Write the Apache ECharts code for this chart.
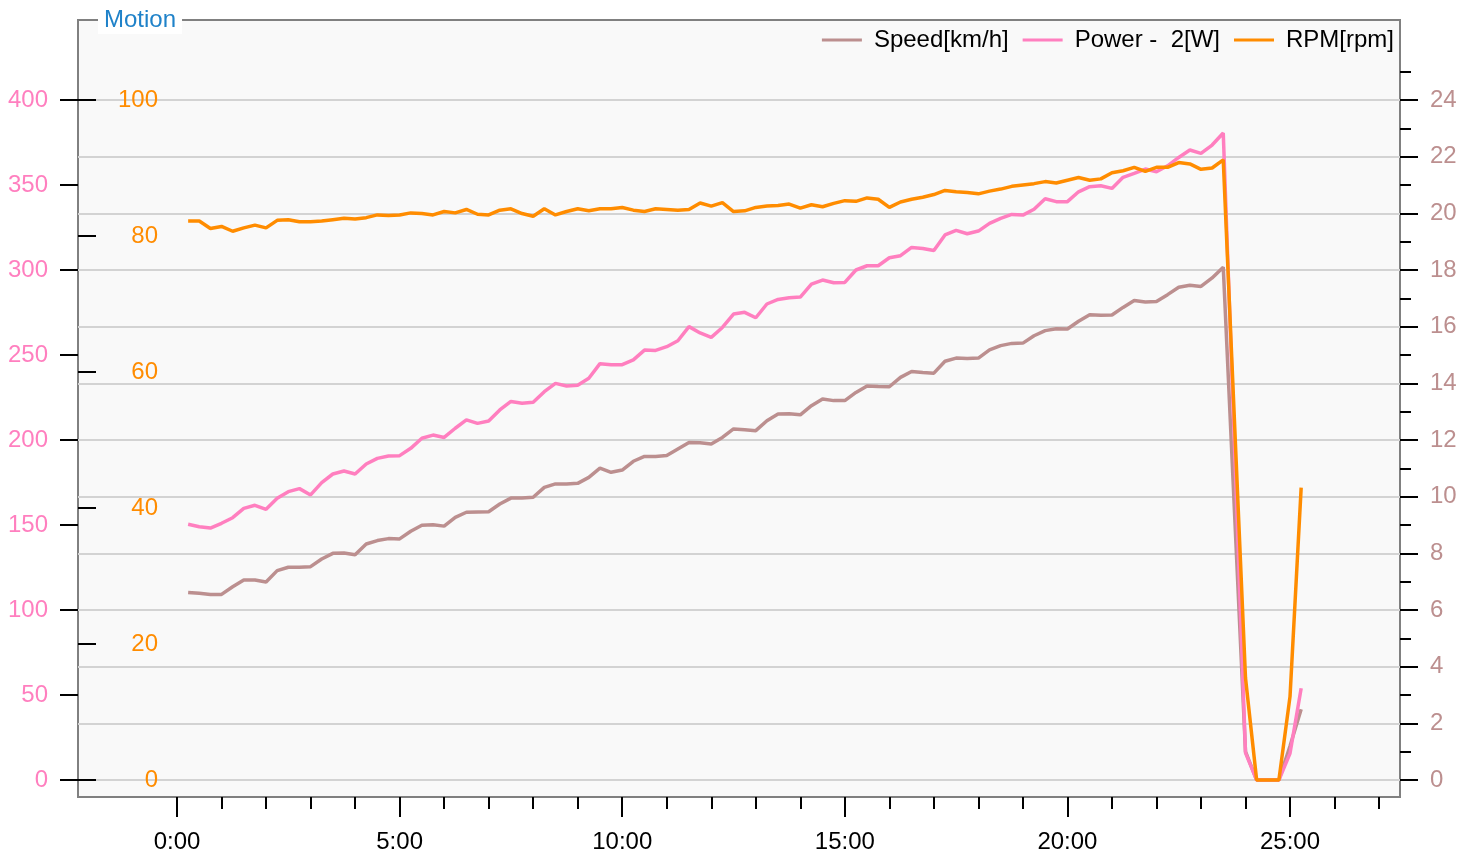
<!DOCTYPE html>
<html>
<head>
<meta charset="utf-8">
<title>Motion</title>
<script src="https://cdn.jsdelivr.net/npm/echarts@6/dist/echarts.min.js"></script>
<style>
  html, body { margin: 0; padding: 0; background: #ffffff; }
  #chart { width: 1476px; height: 855px; }
</style>
</head>
<body>
<div id="chart"></div>
<script>
// one sample every 15 s, starting at 0:15 (null = missing sample)
const speed = [
  6.62, 6.59, 6.55, 6.55, 6.82, 7.06, 7.06, 6.99, 7.39, 7.51,
  7.51, 7.53, 7.80, 8.00, 8.01, 7.95, 8.33, 8.45, 8.52, 8.51,
  8.78, 8.99, 9.01, 8.96, 9.27, 9.45, 9.46, 9.47, 9.74, 9.95,
  9.95, 9.98, 10.33, 10.45, 10.45, 10.47, 10.68, 11.01, 10.86, 10.94,
  11.25, 11.42, 11.42, 11.45, 11.68, 11.91, 11.90, 11.86, 12.09, 12.39,
  12.36, 12.33, 12.68, 12.92, 12.93, 12.89, 13.21, 13.45, 13.39, 13.39,
  13.68, 13.91, 13.89, 13.88, 14.21, 14.42, 14.38, 14.36, 14.78, 14.89,
  14.88, 14.89, 15.18, 15.33, 15.41, 15.42, 15.68, 15.86, 15.93, 15.92,
  16.19, 16.42, 16.40, 16.41, 16.68, 16.92, 16.87, 16.89, 17.13, 17.39,
  17.46, 17.42, 17.72, 18.10, null, 1.0, 0, 0, 0, 1.2,
  2.5
]
const power = [
  150.4, 149.0, 148.2, 151.0, 154.3, 159.8, 161.6, 159.2, 165.7, 169.6,
  171.4, 167.7, 174.9, 180.0, 181.8, 180.0, 185.9, 189.2, 190.6, 190.8,
  195.1, 201.0, 202.9, 201.5, 206.9, 211.8, 209.8, 211.2, 217.7, 222.7,
  221.6, 222.2, 228.4, 233.3, 231.8, 232.2, 236.3, 244.9, 244.3, 244.3,
  247.1, 252.9, 252.7, 254.9, 258.4, 266.7, 263.0, 260.4, 266.2, 274.1,
  275.1, 271.9, 280.0, 282.7, 283.7, 284.1, 291.7, 294.1, 292.5, 292.7,
  300.0, 302.5, 302.5, 307.2, 308.4, 313.3, 312.7, 311.5, 320.6, 323.3,
  321.3, 322.9, 327.4, 330.4, 332.7, 332.3, 335.7, 341.9, 340.2, 340.2,
  346.0, 349.0, 349.6, 348.0, 354.5, 356.8, 359.4, 357.8, 361.3, 366.2,
  370.6, 368.6, 373.5, 380.6, null, 16, 0, 0, 0, 15.7,
  54
]
const rpm = [
  82.2, 82.2, 81.1, 81.4, 80.7, 81.2, 81.6, 81.2, 82.3, 82.4,
  82.1, 82.1, 82.2, 82.4, 82.6, 82.5, 82.7, 83.1, 83.0, 83.1,
  83.4, 83.3, 83.1, 83.6, 83.4, 83.9, 83.2, 83.1, 83.8, 84.0,
  83.3, 82.9, 84.0, 83.1, 83.6, 84.0, 83.7, 84.0, 84.0, 84.2,
  83.8, 83.6, 84.0, 83.9, 83.8, 83.9, 84.85, 84.4, 84.9, 83.6,
  83.7, 84.2, 84.4, 84.5, 84.7, 84.1, 84.6, 84.3, 84.8, 85.2,
  85.1, 85.6, 85.4, 84.2, 85.0, 85.4, 85.7, 86.1, 86.7, 86.5,
  86.4, 86.2, 86.6, 86.9, 87.3, 87.5, 87.7, 88.0, 87.8, 88.2,
  88.6, 88.2, 88.4, 89.3, 89.6, 90.1, 89.5, 90.1, 90.1, 90.8,
  90.6, 89.8, 90.0, 91.2, null, 15, 0, 0, 0, 12.3,
  43
]
// time in minutes
const times = speed.map((_, i) => (i + 1) * 0.25)

const timeLabels = [0, 5, 10, 15, 20, 25]
const minuteTicks = [1, 2, 3, 4, 6, 7, 8, 9, 11, 12, 13, 14, 16, 17, 18, 19, 21, 22, 23, 24, 26, 27]
const powerTicks = [0, 50, 100, 150, 200, 250, 300, 350, 400]
const rpmTicks = [0, 20, 40, 60, 80, 100]
const speedTicks = [0, 2, 4, 6, 8, 10, 12, 14, 16, 18, 20, 22, 24]
const speedMinorTicks = [1, 3, 5, 7, 9, 11, 13, 15, 17, 19, 21, 23, 25]

const speedColor = '#bc8f8f'
const powerColor = '#ff7fbf'
const rpmColor = '#ff8c00'
const font = 'Liberation Sans, Arial, sans-serif'
const fs = 24

const pairs = (vals) => vals.map((v, i) => [times[i], v])

const chart = echarts.init(document.getElementById('chart'))

const option = {
  animation: false,
  backgroundColor: '#ffffff',
  textStyle: { fontFamily: font },
  title: {
    text: 'Motion',
    left: 98,
    top: 6,
    backgroundColor: '#ffffff',
    padding: [2, 6, 2, 6],
    textStyle: { color: '#1f82c9', fontSize: fs, fontWeight: 'normal', fontFamily: font }
  },
  legend: {
    right: 77,
    top: 23,
    icon: 'rect',
    itemWidth: 40,
    itemHeight: 3,
    itemGap: 14,
    textStyle: { color: '#000000', fontSize: fs, fontFamily: font, padding: [0, 0, 0, 7] },
    data: ['Speed[km/h]', 'Power -  2[W]', 'RPM[rpm]']
  },
  grid: {
    left: 78,
    right: 76,
    top: 20,
    bottom: 58,
    show: true,
    backgroundColor: '#f9f9f9',
    borderColor: '#808080',
    borderWidth: 2
  },
  xAxis: [
    {
      type: 'value',
      min: -2.224,
      max: 27.47,
      position: 'bottom',
      axisLine: { show: false, onZero: false },
      splitLine: { show: false },
      axisTick: { customValues: timeLabels, length: 20, lineStyle: { color: '#000', width: 2 } },
      axisLabel: {
        customValues: timeLabels,
        formatter: (v) => v + ':00',
        margin: 33,
        fontSize: fs,
        color: '#000000',
        fontFamily: font
      }
    },
    {
      type: 'value',
      min: -2.224,
      max: 27.47,
      position: 'bottom',
      axisLine: { show: false, onZero: false },
      splitLine: { show: false },
      axisLabel: { show: false },
      axisTick: { customValues: minuteTicks, length: 12, lineStyle: { color: '#000', width: 2 } }
    }
  ],
  yAxis: [
    {
      // power
      type: 'value',
      position: 'left',
      min: -10,
      max: 447.06,
      axisLine: { show: false, onZero: false },
      splitLine: { show: false },
      axisTick: { customValues: powerTicks, length: 18, lineStyle: { color: '#000', width: 2 } },
      axisLabel: { customValues: powerTicks, margin: 30, fontSize: fs, color: powerColor, fontFamily: font }
    },
    {
      // rpm, labels inside the plot
      type: 'value',
      position: 'left',
      min: -2.5,
      max: 111.765,
      axisLine: { show: false, onZero: false },
      splitLine: { show: false },
      axisTick: { customValues: rpmTicks, inside: true, length: 18, lineStyle: { color: '#000', width: 2 } },
      axisLabel: {
        customValues: rpmTicks,
        inside: true,
        align: 'right',
        margin: 80,
        fontSize: fs,
        color: rpmColor,
        fontFamily: font
      }
    },
    {
      // speed
      type: 'value',
      position: 'right',
      min: -0.6,
      max: 26.824,
      axisLine: { show: false, onZero: false },
      splitLine: { show: true, lineStyle: { color: '#d3d3d3', width: 2 } },
      axisTick: { customValues: speedTicks, length: 18, lineStyle: { color: '#000', width: 2 } },
      axisLabel: { customValues: speedTicks, margin: 30, fontSize: fs, color: speedColor, fontFamily: font }
    },
    {
      // speed minor ticks
      type: 'value',
      position: 'right',
      min: -0.6,
      max: 26.824,
      axisLine: { show: false, onZero: false },
      splitLine: { show: false },
      axisLabel: { show: false },
      axisTick: { customValues: speedMinorTicks, length: 11, lineStyle: { color: '#000', width: 2 } }
    }
  ],
  series: [
    {
      name: 'Speed[km/h]',
      type: 'line',
      yAxisIndex: 2,
      data: pairs(speed),
      connectNulls: true,
      showSymbol: false,
      symbol: 'none',
      lineStyle: { color: speedColor, width: 3.5 },
      itemStyle: { color: speedColor }
    },
    {
      name: 'Power -  2[W]',
      type: 'line',
      yAxisIndex: 0,
      data: pairs(power),
      connectNulls: true,
      showSymbol: false,
      symbol: 'none',
      lineStyle: { color: powerColor, width: 3.5 },
      itemStyle: { color: powerColor }
    },
    {
      name: 'RPM[rpm]',
      type: 'line',
      yAxisIndex: 1,
      data: pairs(rpm),
      connectNulls: true,
      showSymbol: false,
      symbol: 'none',
      lineStyle: { color: rpmColor, width: 3.5 },
      itemStyle: { color: rpmColor }
    }
  ]
}

chart.setOption(option)

window.addEventListener('resize', () => {
  chart.resize()
})
</script>
</body>
</html>
